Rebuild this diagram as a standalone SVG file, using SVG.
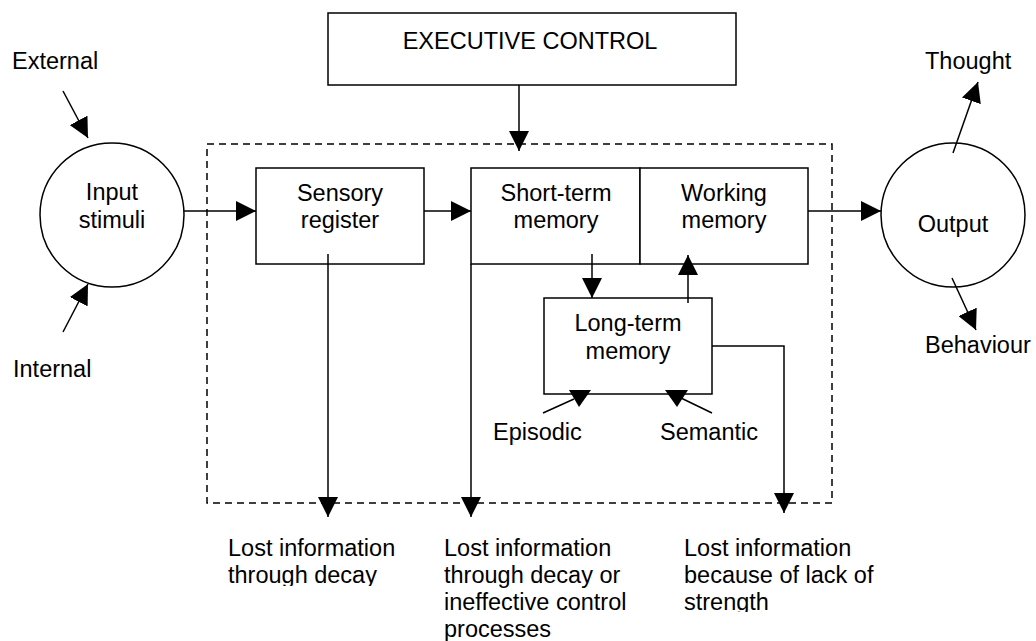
<svg xmlns="http://www.w3.org/2000/svg" width="1036" height="641" viewBox="0 0 1036 641">
<style>
text{font-family:"Liberation Sans",Arial,sans-serif;font-size:23.5px;fill:#000}
.c{text-anchor:middle}
.b{fill:#fff;stroke:#000;stroke-width:1.5}
.l{fill:none;stroke:#000;stroke-width:1.5}
.h{fill:#000;stroke:none}
</style>
<defs>
<marker id="a" markerUnits="userSpaceOnUse" markerWidth="20" markerHeight="20" refX="20" refY="10" orient="auto" viewBox="0 0 20 20"><path d="M0,0L20,10L0,20z" fill="#000"/></marker>
<clipPath id="k1"><rect x="200" y="520" width="220" height="66"/></clipPath>
<clipPath id="k3"><rect x="670" y="520" width="366" height="92"/></clipPath>
</defs>
<rect width="1036" height="641" fill="#fff"/>
<rect id="system" x="207" y="144" width="625" height="359" fill="none" stroke="#000" stroke-width="1.5" stroke-dasharray="7,5"/>
<g id="executive"><rect class="b" x="328" y="13" width="408" height="72"/><text class="c" x="530" y="49">EXECUTIVE CONTROL</text></g>
<g id="input"><circle class="b" cx="112" cy="215" r="72"/><text class="c" x="112" y="200">Input</text><text class="c" x="112" y="228">stimuli</text></g>
<g id="sensory"><rect class="b" x="256" y="168" width="168" height="96"/><text class="c" x="340" y="201">Sensory</text><text class="c" x="340" y="228">register</text></g>
<g id="stm"><rect class="b" x="471" y="168" width="169" height="96"/><text class="c" x="556" y="201">Short-term</text><text class="c" x="556" y="228">memory</text></g>
<g id="wm"><rect class="b" x="640" y="168" width="168" height="96"/><text class="c" x="724" y="201">Working</text><text class="c" x="724" y="228">memory</text></g>
<g id="ltm"><rect class="b" x="544" y="298" width="168" height="96"/><text class="c" x="628" y="331">Long-term</text><text class="c" x="628" y="359">memory</text></g>
<g id="output"><circle class="b" cx="953" cy="215" r="72"/><text class="c" x="953" y="232">Output</text></g>
<g id="labels">
<text x="12" y="69">External</text>
<text x="13" y="377">Internal</text>
<text x="925" y="69">Thought</text>
<text x="925" y="353">Behaviour</text>
<text x="493" y="440">Episodic</text>
<text x="660" y="440">Semantic</text>
<g clip-path="url(#k1)"><text x="228" y="556">Lost information</text><text x="228" y="583">through decay</text></g>
<g><text x="444" y="556">Lost information</text><text x="444" y="583">through decay or</text><text x="444" y="610">ineffective control</text><text x="444" y="637">processes</text></g>
<g clip-path="url(#k3)"><text x="684" y="556">Lost information</text><text x="684" y="583">because of lack of</text><text x="684" y="610">strength</text></g>
</g>
<g id="connectors">
<line class="l" x1="63" y1="91" x2="88" y2="138" marker-end="url(#a)"/>
<line class="l" x1="63" y1="332" x2="88" y2="284" marker-end="url(#a)"/>
<line class="l" x1="519" y1="85" x2="519" y2="151" marker-end="url(#a)"/>
<line class="l" x1="184" y1="211" x2="256" y2="211" marker-end="url(#a)"/>
<line class="l" x1="424" y1="211" x2="471" y2="211" marker-end="url(#a)"/>
<line class="l" x1="808" y1="211" x2="881" y2="211" marker-end="url(#a)"/>
<line class="l" x1="953" y1="153" x2="978" y2="82" marker-end="url(#a)"/>
<line class="l" x1="952" y1="278" x2="976" y2="330" marker-end="url(#a)"/>
<line class="l" x1="328" y1="254" x2="328" y2="517" marker-end="url(#a)"/>
<line class="l" x1="471" y1="264" x2="471" y2="517" marker-end="url(#a)"/>
<line class="l" x1="592" y1="254" x2="592" y2="298" marker-end="url(#a)"/>
<line class="l" x1="688" y1="303" x2="688" y2="255" marker-end="url(#a)"/>
<polyline class="l" points="712,346 784,346 784,513" marker-end="url(#a)"/>
<line class="l" x1="543" y1="413" x2="574" y2="399"/>
<polygon class="h" points="569,390 591,390 579,407"/>
<line class="l" x1="712" y1="413" x2="681" y2="398"/>
<polygon class="h" points="665,390 688,390 677,407"/>
</g>
</svg>
